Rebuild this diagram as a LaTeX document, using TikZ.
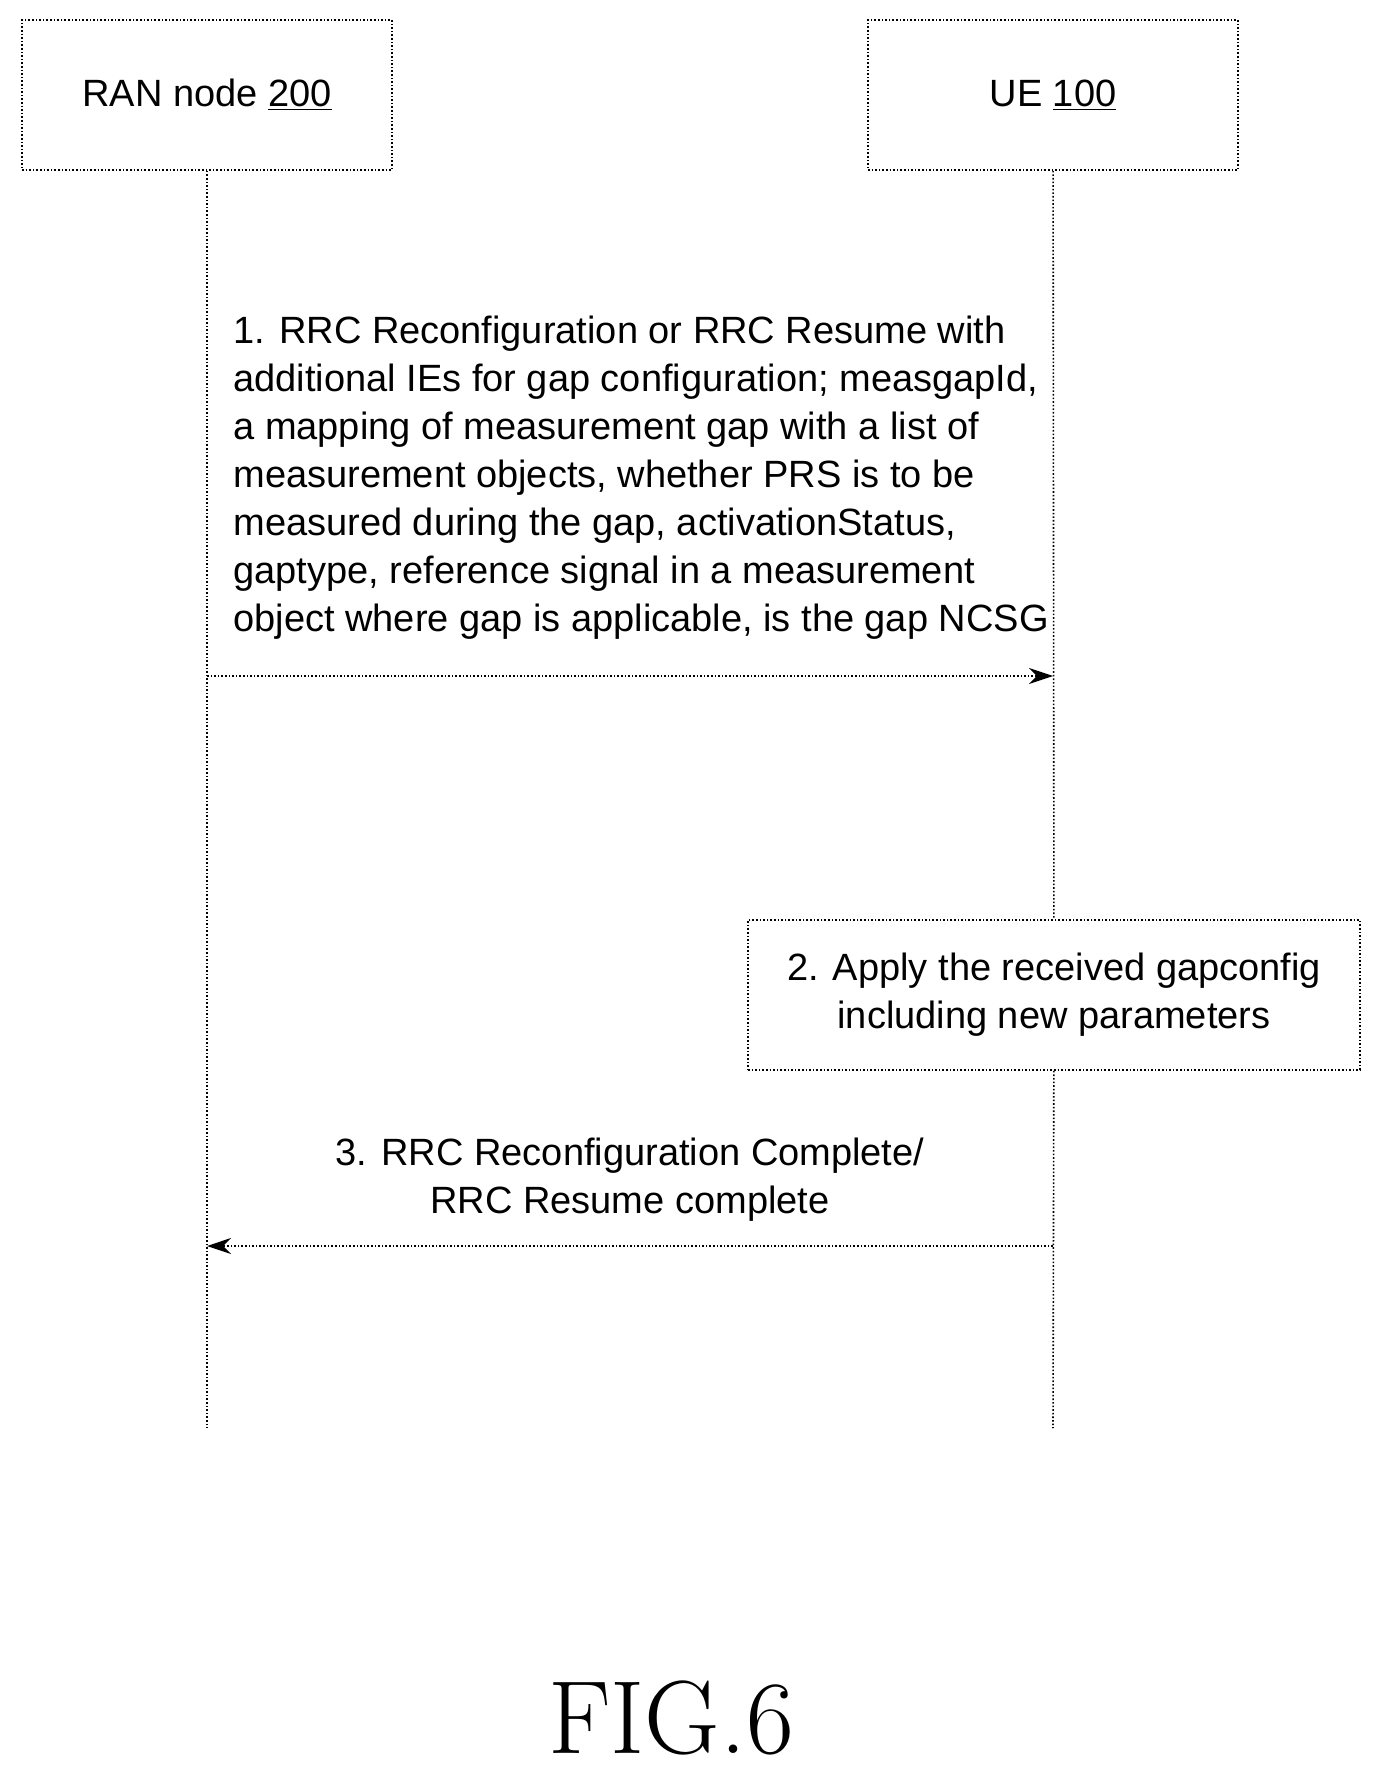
\documentclass[tikz,border=0pt]{standalone}
\usepackage{fontspec}
\setsansfont{Liberation Sans}
\usetikzlibrary{positioning,arrows.meta}
\begin{document}
\begin{tikzpicture}[x=0.5pt,y=-0.5pt,
  entity/.style={draw,densely dotted,line width=0.8pt,minimum width=185pt,minimum height=75pt,font=\sffamily\fontsize{19}{24}\selectfont},
  lifeline/.style={densely dotted,line width=0.8pt},
  msg/.style={densely dotted,line width=0.8pt,-{Stealth[length=12pt,width=8pt]}},
  msgtext/.style={font=\sffamily\fontsize{19}{24}\selectfont,align=left,inner sep=0pt},
  actionbox/.style={draw,densely dotted,line width=0.8pt,minimum width=306pt,minimum height=75pt,align=center,font=\sffamily\fontsize{19}{24}\selectfont}]
  \useasboundingbox (0,0) rectangle (1383,1786);
  \node[entity] (ran) at (207,95) {RAN node \underline{200}};
  \node[entity] (ue) at (1053,95) {UE \underline{100}};
  \coordinate (ranend) at (207,1428);
  \coordinate (ueend) at (1053,1428);
  \node[actionbox] (apply) at (1054,995) {2. Apply the received gapconfig\\including new parameters};
  \draw[lifeline] (ran) -- (ranend);
  \draw[lifeline] (ue) -- (apply);
  \draw[lifeline] (apply) -- (ueend);

  % step 1
  \coordinate (a1s) at (207,676);
  \coordinate (a1e) at (1053,676);
  \draw[msg] (a1s) -- (a1e);
  \node[msgtext,anchor=south west] (t1) at (233,640) {1. RRC Reconfiguration or RRC Resume with\\additional IEs for gap configuration; measgapId,\\a mapping of measurement gap with a list of\\measurement objects, whether PRS is to be\\measured during the gap, activationStatus,\\gaptype, reference signal in a measurement\\object where gap is applicable, is the gap NCSG};

  % step 3
  \coordinate (a3s) at (1053,1246);
  \coordinate (a3e) at (207,1246);
  \draw[msg] (a3s) -- (a3e);
  \node[msgtext,align=center,anchor=south] (t3) at (630,1222) {3. RRC Reconfiguration Complete/\\RRC Resume complete};

  \node[font=\fontsize{52}{60}\selectfont] (fig) at (671,1718) {FIG.6};
\end{tikzpicture}
\end{document}
